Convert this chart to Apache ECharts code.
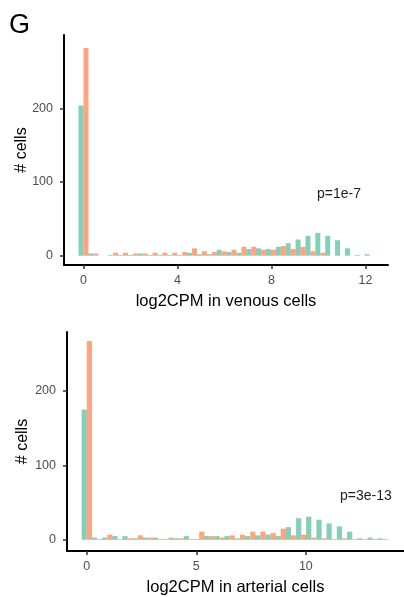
<!DOCTYPE html>
<html>
<head>
<meta charset="utf-8">
<script src="https://cdn.jsdelivr.net/npm/echarts@6/dist/echarts.min.js"></script>
<style>
  html, body { margin: 0; padding: 0; background: #fff; }
  #chart { width: 404px; height: 597px; }
</style>
</head>
<body>
<div id="chart"></div>
<script>
// histogram bin centres (log2CPM)
const venousBins = [0, 0.42, 0.84, 1.26, 1.68, 2.10, 2.52, 2.94, 3.36, 3.78, 4.20, 4.62, 5.04, 5.46, 5.88,
  6.30, 6.72, 7.14, 7.56, 7.98, 8.40, 8.82, 9.24, 9.66, 10.08, 10.50, 10.92, 11.34, 11.76, 12.18]
const venousGreen = [204, 3, 0, 1, 1, 1, 3, 1, 1, 1, 1, 4, 2, 2, 8, 5, 4, 9, 10, 9, 12, 17, 22, 27, 31, 27, 21, 10, 1, 2]
const venousOrange = [282, 3, 0, 4, 4, 3, 3, 4, 4, 4, 5, 10, 6, 5, 6, 8, 12, 12, 8, 8, 13, 9, 12, 6, 4, 0, 0, 0, 0, 0]

const arterialBins = [0, 0.47, 0.93, 1.40, 1.86, 2.33, 2.80, 3.26, 3.73, 4.19, 4.66, 5.13, 5.59, 6.06, 6.52,
  6.99, 7.46, 7.92, 8.39, 8.85, 9.32, 9.79, 10.25, 10.72, 11.18, 11.65, 12.12, 12.58, 13.05, 13.51]
const arterialGreen = [175, 3, 3, 5, 5, 2, 3, 3, 1, 2, 5, 1, 5, 5, 5, 2, 5, 6, 7, 5, 17, 29, 31, 27, 22, 18, 11, 2, 3, 2]
const arterialOrange = [267, 1, 7, 1, 2, 6, 3, 1, 3, 2, 1, 11, 5, 3, 6, 7, 11, 11, 9, 15, 6, 7, 3, 2, 1, 2, 1, 1, 1, 1]

const venousTicks = [0, 4, 8, 12]
const arterialTicks = [0, 5, 10]
const countTicks = [0, 100, 200]

const GREEN = 'rgba(102, 194, 165, 0.8)'
const ORANGE = 'rgba(252, 141, 98, 0.8)'
const FONT = 'Liberation Sans'

function pairs (bins, counts) {
    return bins.map(function (b, i) { return [b, counts[i]] })
}

function xAxisOf (grid, min, max, ticks, title) {
    return {
        type: 'value', gridIndex: grid, min: min, max: max,
        name: title, nameLocation: 'middle', nameGap: 28,
        nameTextStyle: { color: '#000', fontSize: 16.5, fontFamily: FONT },
        axisLine: { onZero: false, lineStyle: { color: '#000', width: 2 } },
        axisTick: { customValues: ticks, length: 4, lineStyle: { color: '#333', width: 1.5 } },
        axisLabel: { customValues: ticks, margin: 9, color: '#4d4d4d', fontSize: 12.5, fontFamily: FONT },
        splitLine: { show: false }
    }
}

function yAxisOf (grid, min, max, gap) {
    return {
        type: 'value', gridIndex: grid, min: min, max: max,
        name: '# cells', nameLocation: 'middle', nameGap: gap, nameRotate: 90,
        nameMoveOverlap: false,
        nameTextStyle: { color: '#000', fontSize: 16, fontFamily: FONT },
        axisLine: { show: true, onZero: false, lineStyle: { color: '#000', width: 2 } },
        axisTick: { show: true, customValues: countTicks, length: 4, lineStyle: { color: '#333', width: 1.5 } },
        axisLabel: { customValues: countTicks, margin: 11, color: '#4d4d4d', fontSize: 12.5, fontFamily: FONT },
        splitLine: { show: false }
    }
}

function barSeries (axis, data, color, width) {
    return {
        type: 'bar', xAxisIndex: axis, yAxisIndex: axis,
        data: data, barWidth: width, barGap: '0%',
        itemStyle: { color: color },
        silent: true
    }
}

const myChart = echarts.init(document.getElementById('chart'), null, { renderer: 'canvas' })

const option = {
    animation: false,
    backgroundColor: '#fff',
    grid: [
        { left: 64, top: 35, width: 324, height: 230 },
        { left: 67, top: 332, width: 340, height: 222 }
    ],
    xAxis: [
        xAxisOf(0, -0.83, 12.96, venousTicks, 'log2CPM in venous cells'),
        xAxisOf(1, -0.905, 14.48, arterialTicks, 'log2CPM in arterial cells')
    ],
    yAxis: [
        yAxisOf(0, -12.6, 299.5, 34),
        yAxisOf(1, -15, 279, 36)
    ],
    series: [
        barSeries(0, pairs(venousBins, venousGreen), GREEN, 5),
        barSeries(0, pairs(venousBins, venousOrange), ORANGE, 5),
        barSeries(1, pairs(arterialBins, arterialGreen), GREEN, 5.2),
        barSeries(1, pairs(arterialBins, arterialOrange), ORANGE, 5.2)
    ],
    graphic: [
        { type: 'text', left: 9, top: 12, style: { text: 'G', fontSize: 27, fontFamily: FONT, fill: '#000' } },
        { type: 'text', left: 317, top: 187, style: { text: 'p=1e-7', fontSize: 14, fontFamily: FONT, fill: '#222' } },
        { type: 'text', left: 340, top: 489, style: { text: 'p=3e-13', fontSize: 14, fontFamily: FONT, fill: '#222' } }
    ]
}

myChart.setOption(option)
</script>
</body>
</html>
